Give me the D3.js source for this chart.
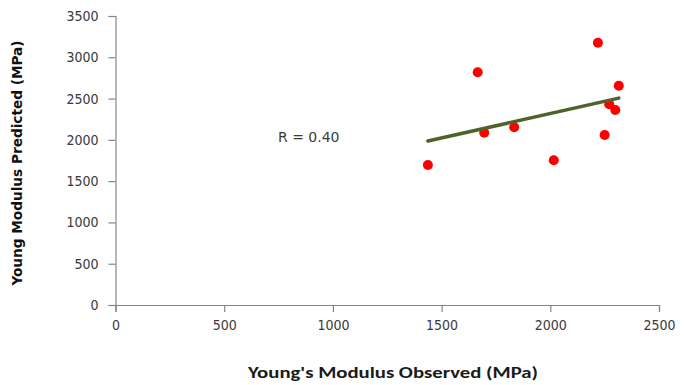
<!DOCTYPE html>
<html>
<head>
<meta charset="utf-8">
<script src="https://cdn.jsdelivr.net/npm/d3@7"></script>
<style>
  html, body { margin: 0; padding: 0; background: #ffffff; }
  svg { display: block; }
</style>
</head>
<body>
<svg id="chart" width="684" height="385"></svg>
<script>
const observed  = [1437, 1666, 1696, 1834, 2016, 2219, 2250, 2271, 2299, 2315];
const predicted = [1696, 2818, 2087, 2152, 1752, 3177, 2059, 2431, 2362, 2656];
const xTicks = [0, 500, 1000, 1500, 2000, 2500];
const yTicks = [0, 500, 1000, 1500, 2000, 2500, 3000, 3500];
const xTitle = "Young's Modulus Observed (MPa)";
const yTitle = "Young Modulus Predicted (MPa)";
const rLabel = "R = 0.40";

const svg = d3.select("#chart");
const x = d3.scaleLinear().domain([0, 2500]).range([115.5, 659]);
const y = d3.scaleLinear().domain([0, 3500]).range([305, 16]);

const tickFont = "Tahoma, 'DejaVu Sans Condensed', 'DejaVu Sans', sans-serif";
const axisColor = "#868686";

// X axis
const gx = svg.append("g").attr("transform", `translate(0,${y(0)})`)
  .call(d3.axisBottom(x).tickValues(xTicks).tickSize(7).tickPadding(8).tickFormat(d3.format("d")));
gx.select(".domain").attr("stroke", axisColor).attr("stroke-width", 1.2);
gx.selectAll(".tick line").attr("stroke", axisColor).attr("stroke-width", 1.2);
gx.selectAll(".tick text").attr("fill", "#3a3a3a").style("font-family", tickFont).style("font-size", "14px");

// Y axis
const gy = svg.append("g").attr("transform", `translate(${x(0)},0)`)
  .call(d3.axisLeft(y).tickValues(yTicks).tickSize(7).tickPadding(10).tickFormat(d3.format("d")));
gy.select(".domain").attr("stroke", axisColor).attr("stroke-width", 1.2);
gy.selectAll(".tick line").attr("stroke", axisColor).attr("stroke-width", 1.2);
gy.selectAll(".tick text").attr("fill", "#3a3a3a").style("font-family", tickFont).style("font-size", "14px");

// Linear regression trend line
const n = observed.length;
const mx = d3.mean(observed), my = d3.mean(predicted);
let sxy = 0, sxx = 0;
for (let i = 0; i < n; i++) {
  sxy += (observed[i] - mx) * (predicted[i] - my);
  sxx += (observed[i] - mx) ** 2;
}
const slope = sxy / sxx, intercept = my - slope * mx;
const [x0, x1] = d3.extent(observed);

// Points
svg.append("g").selectAll("circle")
  .data(observed.map((o, i) => [o, predicted[i]]))
  .join("circle")
  .attr("cx", d => x(d[0]))
  .attr("cy", d => y(d[1]))
  .attr("r", 5)
  .attr("fill", "#ff0000");

svg.append("line")
  .attr("x1", x(x0)).attr("y1", y(intercept + slope * x0))
  .attr("x2", x(x1)).attr("y2", y(intercept + slope * x1))
  .attr("stroke", "#4f6228").attr("stroke-width", 3.5).attr("stroke-linecap", "round");

// R label
svg.append("text")
  .attr("x", 278).attr("y", 142)
  .attr("fill", "#3a3a3a")
  .style("font-family", "'DejaVu Sans', sans-serif")
  .style("font-size", "14px")
  .text(rLabel);

// Titles
svg.append("text")
  .attr("x", 393).attr("y", 378)
  .attr("text-anchor", "middle")
  .attr("fill", "#1a1a1a")
  .attr("textLength", 290)
  .attr("lengthAdjust", "spacingAndGlyphs")
  .style("font-family", "Calibri, Carlito, 'Open Sans', 'Liberation Sans', sans-serif")
  .style("font-weight", "bold")
  .style("font-size", "16px")
  .text(xTitle);

svg.append("text")
  .attr("transform", `translate(22,163) rotate(-90)`)
  .attr("text-anchor", "middle")
  .attr("fill", "#111111")
  .attr("textLength", 245)
  .attr("lengthAdjust", "spacingAndGlyphs")
  .style("font-family", "Tahoma, 'DejaVu Sans Condensed', 'DejaVu Sans', sans-serif")
  .style("font-weight", "bold")
  .style("font-size", "14px")
  .text(yTitle);
</script>
</body>
</html>
